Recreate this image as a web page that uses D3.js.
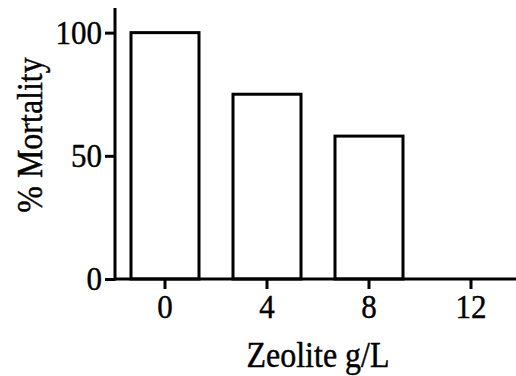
<!DOCTYPE html>
<html>
<head>
<meta charset="utf-8">
<script src="https://cdn.jsdelivr.net/npm/d3@7"></script>
<style>
  body { margin: 0; background: #fff; }
  svg { display: block; }
  svg text { font-family: "Liberation Serif", "Times New Roman", serif; fill: #000; stroke: #000; stroke-width: 0.4px; }
</style>
</head>
<body>
<svg id="chart" width="516" height="376"></svg>
<script>
// data
const doses = ['0', '4', '8', '12'];
const mortality = [100, 75, 58, 0];
const yTicks = [0, 50, 100];

const svg = d3.select('#chart');

const x = d3.scaleBand()
	.domain(doses)
	.range([114, 522])
	.paddingInner(1 / 3)
	.paddingOuter(1 / 6);

const y = d3.scaleLinear()
	.domain([0, 110])
	.range([279, 8]);

// bars
svg.append('g')
	.selectAll('rect')
	.data(doses)
	.join('rect')
		.attr('x', d => x(d))
		.attr('y', (d, i) => y(mortality[i]))
		.attr('width', x.bandwidth())
		.attr('height', (d, i) => y(0) - y(mortality[i]))
		.attr('fill', '#fff')
		.attr('stroke', '#000')
		.attr('stroke-width', 3);

// y axis
const yAxis = svg.append('g')
	.attr('transform', 'translate(115,0)')
	.call(d3.axisLeft(y).tickValues(yTicks).tickSize(10).tickPadding(3).tickSizeOuter(0));

// x axis
const xAxis = svg.append('g')
	.attr('transform', `translate(0,${y(0)})`)
	.call(d3.axisBottom(x).tickSize(10).tickPadding(4).tickSizeOuter(0));

[yAxis, xAxis].forEach(ax => {
	ax.attr('font-family', null).attr('font-size', 31);
	ax.select('.domain').attr('stroke-width', 3);
	ax.selectAll('.tick line').attr('stroke-width', 3);
	ax.selectAll('.tick text').attr('transform', 'scale(1,1.08)');
});
// y domain runs up to the top of the range, x domain to the edge
yAxis.select('.domain').attr('d', `M0,${y(0) + 1.5}V${y(110)}`);
xAxis.select('.domain').attr('d', `M115,0H516`);

// axis titles
svg.append('text')
	.attr('transform', 'translate(318,367) scale(1,1.12)')
	.attr('text-anchor', 'middle')
	.attr('font-size', 32)
	.text('Zeolite g/L');

svg.append('text')
	.attr('transform', 'translate(42,135) rotate(-90) scale(1,1.12)')
	.attr('text-anchor', 'middle')
	.attr('font-size', 32)
	.text('% Mortality');
</script>
</body>
</html>
